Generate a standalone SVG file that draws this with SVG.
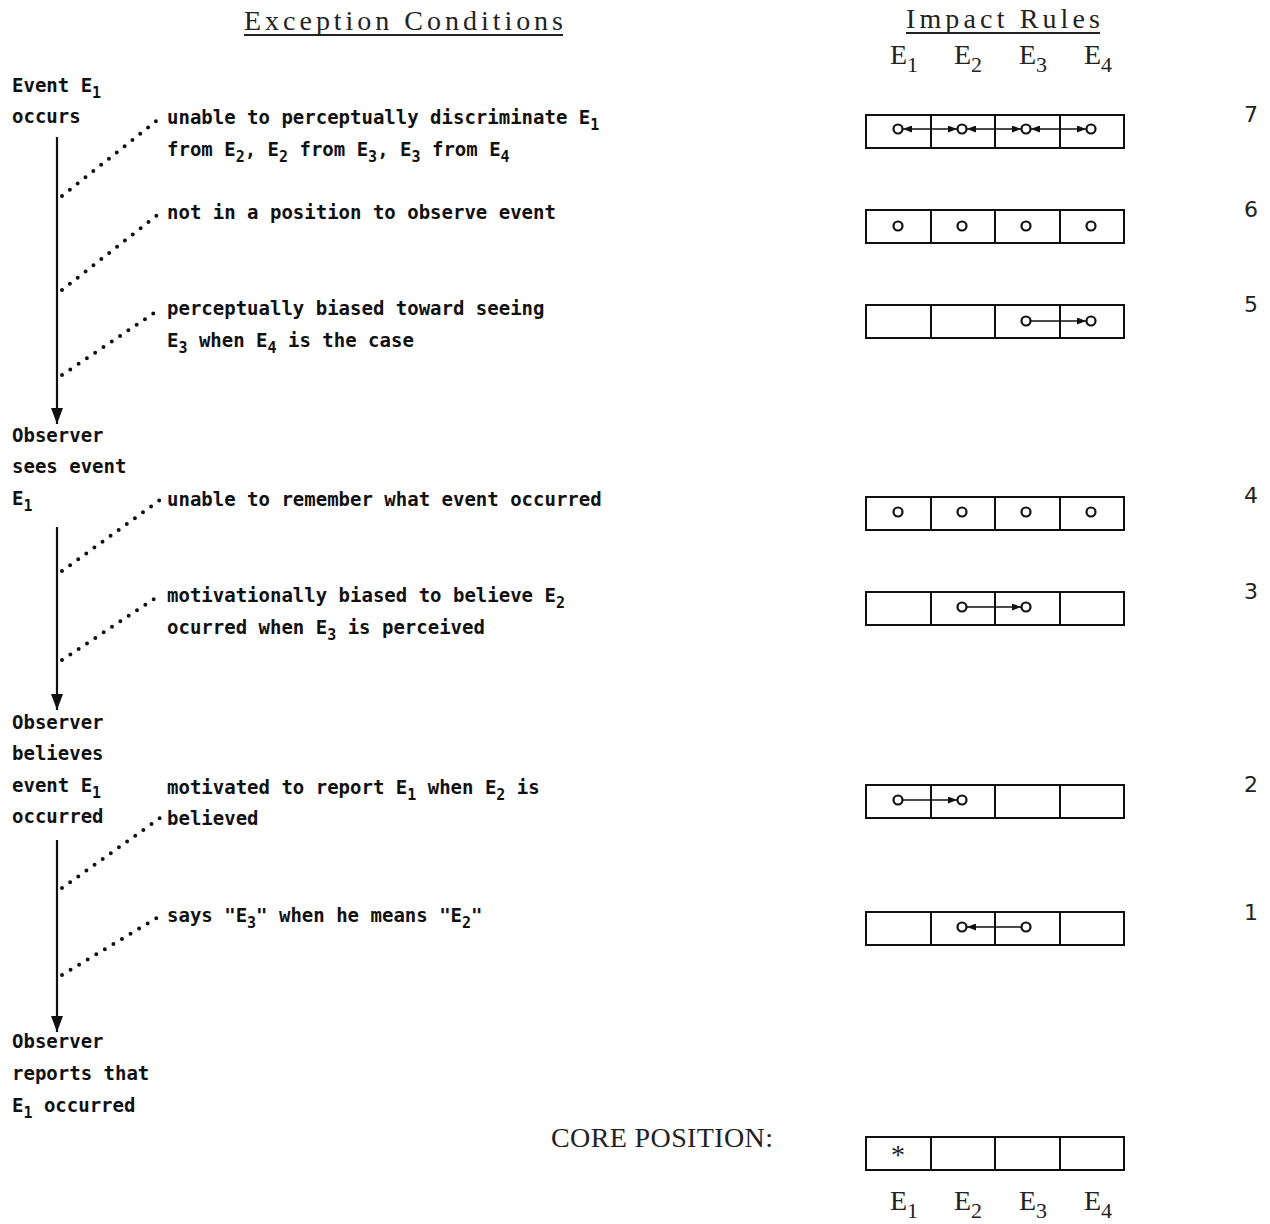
<svg xmlns="http://www.w3.org/2000/svg" width="1270" height="1224" viewBox="0 0 1270 1224">
<style>
.lt{font-family:"DejaVu Sans Mono","Liberation Mono",monospace;font-weight:bold;font-size:19px;fill:#111}
.sub{font-size:15px}
.hd{font-family:"Liberation Serif","Times New Roman",serif;font-size:28px;fill:#222}
.hs{font-size:22px}
.num{font-family:"DejaVu Sans","Liberation Sans",sans-serif;font-size:22px;fill:#222}
.cell{fill:none;stroke:#111;stroke-width:2}
.dot{fill:none;stroke:#111;stroke-width:2.2}
.ca{stroke:#111;stroke-width:1.7;fill:none}
.flow{stroke:#111;stroke-width:2.2;fill:none}
.dotted{stroke:#111;stroke-width:4;stroke-linecap:round;stroke-dasharray:0 10;fill:none}
.ul{stroke:#222;stroke-width:1.8}
</style>
<defs>
<marker id="ah" markerWidth="9" markerHeight="7" refX="9" refY="3.5" orient="auto-start-reverse" markerUnits="userSpaceOnUse">
<path d="M0,0 L9,3.5 L0,7 z" fill="#111"/>
</marker>
<marker id="big" markerWidth="16" markerHeight="12" refX="16" refY="6" orient="auto" markerUnits="userSpaceOnUse">
<path d="M0,0 L16,6 L0,12 z" fill="#111"/>
</marker>
<g id="cells">
<rect class="cell" x="866" y="0" width="258" height="33"/>
<line class="cell" x1="931" y1="0" x2="931" y2="33"/>
<line class="cell" x1="995" y1="0" x2="995" y2="33"/>
<line class="cell" x1="1060" y1="0" x2="1060" y2="33"/>
</g>
</defs>

<g id="headers">
<text class="hd" x="244" y="30" textLength="319" lengthAdjust="spacing">Exception Conditions</text>
<line class="ul" x1="244" y1="35" x2="563" y2="35"/>
<text class="hd" x="906" y="28" textLength="194" lengthAdjust="spacing">Impact Rules</text>
<line class="ul" x1="906" y1="33" x2="1100" y2="33"/>
<text class="hd" x="890" y="64">E<tspan class="hs" dy="8">1</tspan></text>
<text class="hd" x="954" y="64">E<tspan class="hs" dy="8">2</tspan></text>
<text class="hd" x="1019" y="64">E<tspan class="hs" dy="8">3</tspan></text>
<text class="hd" x="1084" y="64">E<tspan class="hs" dy="8">4</tspan></text>
</g>

<g id="stage-event">
<text class="lt" x="12" y="92">Event E<tspan class="sub" dy="6">1</tspan></text>
<text class="lt" x="12" y="123">occurs</text>
</g>
<g id="stage-sees">
<text class="lt" x="12" y="442">Observer</text>
<text class="lt" x="12" y="473">sees event</text>
<text class="lt" x="12" y="505">E<tspan class="sub" dy="6">1</tspan></text>
</g>
<g id="stage-believes">
<text class="lt" x="12" y="729">Observer</text>
<text class="lt" x="12" y="760">believes</text>
<text class="lt" x="12" y="792">event E<tspan class="sub" dy="6">1</tspan></text>
<text class="lt" x="12" y="823">occurred</text>
</g>
<g id="stage-reports">
<text class="lt" x="12" y="1048">Observer</text>
<text class="lt" x="12" y="1080">reports that</text>
<text class="lt" x="12" y="1112">E<tspan class="sub" dy="6">1</tspan><tspan dy="-6"> occurred</tspan></text>
</g>

<g id="cond7">
<text class="lt" x="167" y="124">unable to perceptually discriminate E<tspan class="sub" dy="6">1</tspan></text>
<text class="lt" x="167" y="156">from E<tspan class="sub" dy="6">2</tspan><tspan dy="-6">, E</tspan><tspan class="sub" dy="6">2</tspan><tspan dy="-6"> from E</tspan><tspan class="sub" dy="6">3</tspan><tspan dy="-6">, E</tspan><tspan class="sub" dy="6">3</tspan><tspan dy="-6"> from E</tspan><tspan class="sub" dy="6">4</tspan></text>
</g>
<g id="cond6">
<text class="lt" x="167" y="219">not in a position to observe event</text>
</g>
<g id="cond5">
<text class="lt" x="167" y="315">perceptually biased toward seeing</text>
<text class="lt" x="167" y="347">E<tspan class="sub" dy="6">3</tspan><tspan dy="-6"> when E</tspan><tspan class="sub" dy="6">4</tspan><tspan dy="-6"> is the case</tspan></text>
</g>
<g id="cond4">
<text class="lt" x="167" y="506">unable to remember what event occurred</text>
</g>
<g id="cond3">
<text class="lt" x="167" y="602">motivationally biased to believe E<tspan class="sub" dy="6">2</tspan></text>
<text class="lt" x="167" y="634">ocurred when E<tspan class="sub" dy="6">3</tspan><tspan dy="-6"> is perceived</tspan></text>
</g>
<g id="cond2">
<text class="lt" x="167" y="794">motivated to report E<tspan class="sub" dy="6">1</tspan><tspan dy="-6"> when E</tspan><tspan class="sub" dy="6">2</tspan><tspan dy="-6"> is</tspan></text>
<text class="lt" x="167" y="825">believed</text>
</g>
<g id="cond1">
<text class="lt" x="167" y="922">says "E<tspan class="sub" dy="6">3</tspan><tspan dy="-6">" when he means "E</tspan><tspan class="sub" dy="6">2</tspan><tspan dy="-6">"</tspan></text>
</g>

<g id="connectors">
<line class="flow" x1="57" y1="137" x2="57" y2="424" marker-end="url(#big)"/>
<line class="flow" x1="57" y1="527" x2="57" y2="710" marker-end="url(#big)"/>
<line class="flow" x1="57" y1="840" x2="57" y2="1032" marker-end="url(#big)"/>
<line class="dotted" x1="62" y1="196" x2="160" y2="118"/>
<line class="dotted" x1="62" y1="290" x2="160" y2="213"/>
<line class="dotted" x1="62" y1="375" x2="160" y2="309"/>
<line class="dotted" x1="62" y1="571" x2="160" y2="500"/>
<line class="dotted" x1="62" y1="660" x2="160" y2="595"/>
<line class="dotted" x1="62" y1="888" x2="160" y2="818"/>
<line class="dotted" x1="62" y1="975" x2="160" y2="916"/>
</g>

<g id="rule7">
<use href="#cells" y="115"/>
<circle class="dot" cx="898" cy="129" r="4.5"/><circle class="dot" cx="962" cy="129" r="4.5"/><circle class="dot" cx="1026" cy="129" r="4.5"/><circle class="dot" cx="1091" cy="129" r="4.5"/>
<line class="ca" x1="903" y1="129" x2="957" y2="129" marker-start="url(#ah)" marker-end="url(#ah)"/>
<line class="ca" x1="967" y1="129" x2="1021" y2="129" marker-start="url(#ah)" marker-end="url(#ah)"/>
<line class="ca" x1="1031" y1="129" x2="1086" y2="129" marker-start="url(#ah)" marker-end="url(#ah)"/>
<text class="num" x="1244" y="122">7</text>
</g>
<g id="rule6">
<use href="#cells" y="210"/>
<circle class="dot" cx="898" cy="226" r="4.5"/><circle class="dot" cx="962" cy="226" r="4.5"/><circle class="dot" cx="1026" cy="226" r="4.5"/><circle class="dot" cx="1091" cy="226" r="4.5"/>
<text class="num" x="1244" y="217">6</text>
</g>
<g id="rule5">
<use href="#cells" y="305"/>
<circle class="dot" cx="1026" cy="321" r="4.5"/><circle class="dot" cx="1091" cy="321" r="4.5"/>
<line class="ca" x1="1031" y1="321" x2="1086" y2="321" marker-end="url(#ah)"/>
<text class="num" x="1244" y="312">5</text>
</g>
<g id="rule4">
<use href="#cells" y="497"/>
<circle class="dot" cx="898" cy="512" r="4.5"/><circle class="dot" cx="962" cy="512" r="4.5"/><circle class="dot" cx="1026" cy="512" r="4.5"/><circle class="dot" cx="1091" cy="512" r="4.5"/>
<text class="num" x="1244" y="503">4</text>
</g>
<g id="rule3">
<use href="#cells" y="592"/>
<circle class="dot" cx="962" cy="607" r="4.5"/><circle class="dot" cx="1026" cy="607" r="4.5"/>
<line class="ca" x1="967" y1="607" x2="1021" y2="607" marker-end="url(#ah)"/>
<text class="num" x="1244" y="599">3</text>
</g>
<g id="rule2">
<use href="#cells" y="785"/>
<circle class="dot" cx="898" cy="800" r="4.5"/><circle class="dot" cx="962" cy="800" r="4.5"/>
<line class="ca" x1="903" y1="800" x2="957" y2="800" marker-end="url(#ah)"/>
<text class="num" x="1244" y="792">2</text>
</g>
<g id="rule1">
<use href="#cells" y="912"/>
<circle class="dot" cx="962" cy="927" r="4.5"/><circle class="dot" cx="1026" cy="927" r="4.5"/>
<line class="ca" x1="1021" y1="927" x2="967" y2="927" marker-end="url(#ah)"/>
<text class="num" x="1244" y="920">1</text>
</g>
<g id="core">
<text class="hd" x="551" y="1147" textLength="222" lengthAdjust="spacing">CORE POSITION:</text>
<use href="#cells" y="1137"/>
<text class="hd" x="891" y="1164" font-size="26">*</text>
<text class="hd" x="890" y="1210">E<tspan class="hs" dy="8">1</tspan></text>
<text class="hd" x="954" y="1210">E<tspan class="hs" dy="8">2</tspan></text>
<text class="hd" x="1019" y="1210">E<tspan class="hs" dy="8">3</tspan></text>
<text class="hd" x="1084" y="1210">E<tspan class="hs" dy="8">4</tspan></text>
</g>
</svg>
